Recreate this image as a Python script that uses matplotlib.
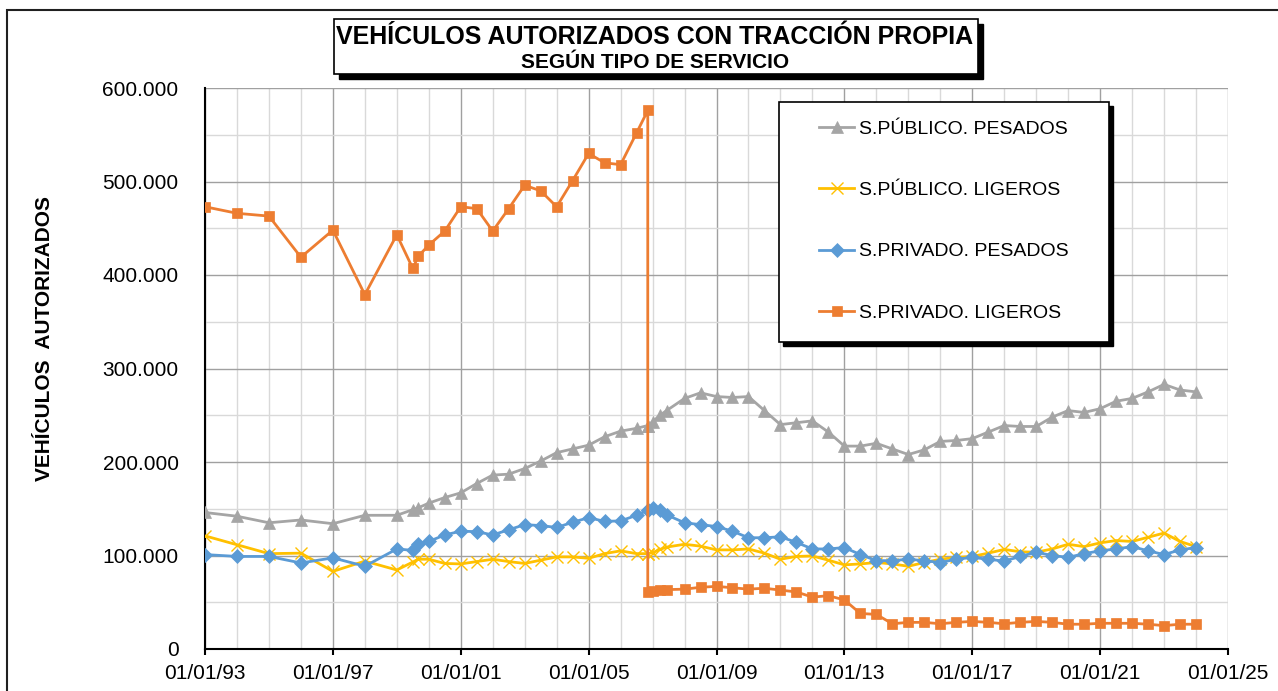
import numpy as np
import matplotlib
matplotlib.use("Agg")
import matplotlib.pyplot as plt
from matplotlib.patches import Rectangle
from matplotlib.ticker import FuncFormatter, FixedLocator, MultipleLocator

plt.rcParams["font.family"] = ["Liberation Sans", "DejaVu Sans"]

# fecha en años decimales (dos registros en 2006.85: cambio de criterio)
fechas = [1993, 1994, 1995, 1996, 1997, 1998, 1999, 1999.5, 1999.67,
          2000, 2000.5, 2001, 2001.5, 2002, 2002.5, 2003, 2003.5,
          2004, 2004.5, 2005, 2005.5, 2006, 2006.5,
          2006.85, 2006.85, 2007.0, 2007.23, 2007.44,
          2008, 2008.5, 2009, 2009.5, 2010, 2010.5, 2011, 2011.5,
          2012, 2012.5, 2013, 2013.5, 2014, 2014.5, 2015, 2015.5,
          2016, 2016.5, 2017, 2017.5, 2018, 2018.5, 2019, 2019.5,
          2020, 2020.5, 2021, 2021.5, 2022, 2022.5, 2023, 2023.5, 2024]

# miles de vehículos
pub_pesados = [146, 142, 135, 138, 134, 143, 143, 149, 151,
               156, 162, 167, 177, 186, 187, 193, 201, 210, 214, 218, 227, 233, 236,
               239, 239, 243, 250, 255,
               268, 274, 270, 269, 270, 255, 240, 242, 244, 232, 217, 217, 220, 214,
               208, 213, 222, 223, 225, 232, 239, 238, 238, 248, 255, 253, 257, 265,
               268, 275, 283, 277, 275]
pub_ligeros = [121, 111.5, 102, 102.5, 83, 94, 84.5, 93, 96,
               96, 91.5, 91, 93.5, 96, 93.5, 91.5, 95, 98.5, 98.5, 97, 102, 105, 102,
               102, 102, 103, 106.5, 109,
               112, 110, 106, 106, 107, 102.5, 96, 99, 99.5, 95, 90, 91, 92.5, 91,
               88.5, 92.5, 96, 98, 99, 102.5, 106.5, 104, 103.5, 107, 112, 109.5,
               113.5, 116, 115, 119.5, 124, 115, 109.5]
priv_pesados = [101, 99, 99, 92, 97.5, 88.5, 107, 105.5, 112.5,
                115, 122, 126, 125.5, 122, 127.5, 133, 132, 130, 135.5, 140.5, 136.5, 137, 143,
                148.5, 148.5, 151, 149, 143.5,
                135, 133, 131, 126, 119, 119, 120, 114, 107, 107, 108.5, 101, 94.5,
                94.5, 96, 94.5, 92.5, 96, 98, 96, 94, 99, 103.5, 100, 98, 102, 105,
                107, 109.5, 105, 101, 106, 108.5]
priv_ligeros = [473, 466, 463, 419, 448, 379, 443, 407, 420,
                432, 447, 473, 471, 447, 471, 496, 490, 473, 501, 530, 520, 518, 552,
                576, 61, 62, 63.5, 63.5,
                64, 66, 67, 65.5, 64, 65, 63, 61, 55.5, 57, 52.5, 38, 37, 27, 28.5,
                28.5, 27, 28.5, 29.5, 28.5, 27, 28.5, 29.5, 28.5, 26.5, 26.5, 27.5,
                27.5, 27.5, 26.5, 25, 26.5, 26.5]

series = [
    ("S.PÚBLICO. PESADOS", pub_pesados, "#A5A5A5", "^", 8.5, 0.5),
    ("S.PÚBLICO. LIGEROS", pub_ligeros, "#FFC000", "x", 8.5, 1.0),
    ("S.PRIVADO. PESADOS", priv_pesados, "#5B9BD5", "D", 7, 0.5),
    ("S.PRIVADO. LIGEROS", priv_ligeros, "#ED7D31", "s", 7.5, 0.5),
]

W, H = 1278, 691
fig = plt.figure(figsize=(W / 100, H / 100), dpi=100)


def px_rect(x0, y0, x1, y1, **kw):
    # rectángulo en píxeles de la figura (origen arriba a la izquierda)
    return Rectangle((x0 / W, 1 - y1 / H), (x1 - x0) / W, (y1 - y0) / H,
                     transform=fig.transFigure, **kw)


# marco exterior
fig.patches.append(px_rect(7, 10, 1300, 710, fill=False, edgecolor="#202020", linewidth=1.5))

ax = fig.add_axes([205 / W, 1 - 649 / H, (1228 - 205) / W, (649 - 88) / H])

x = np.array(fechas)
for name, vals, color, marker, ms, mew in series:
    ax.plot(x, np.array(vals) * 1000, color=color, linewidth=2.0, marker=marker,
            markersize=ms, markeredgewidth=mew, markeredgecolor=color,
            label=name, zorder=3)

ax.set_xlim(1993, 2025)
ax.set_ylim(0, 600000)
ax.xaxis.set_major_locator(FixedLocator(range(1993, 2026, 4)))
ax.xaxis.set_minor_locator(MultipleLocator(1))
ax.yaxis.set_major_locator(MultipleLocator(100000))
ax.yaxis.set_minor_locator(MultipleLocator(50000))
ax.xaxis.set_major_formatter(FuncFormatter(lambda v, p: "01/01/%02d" % (int(round(v)) % 100)))
ax.yaxis.set_major_formatter(FuncFormatter(lambda v, p: "{:,.0f}".format(v).replace(",", ".")))

ax.grid(True, which="major", color="#A0A0A0", linewidth=1.0, zorder=0)
ax.grid(True, which="minor", color="#D9D9D9", linewidth=1.0, zorder=0)
ax.set_axisbelow(True)

for side in ["top", "right"]:
    ax.spines[side].set_visible(False)
for side in ["left", "bottom"]:
    ax.spines[side].set_color("black")
    ax.spines[side].set_linewidth(1.5)

ax.tick_params(axis="x", which="major", length=4, width=1.5, direction="out",
               labelsize=15, pad=7)
ax.tick_params(axis="y", which="major", length=0, labelsize=15, pad=19)
ax.tick_params(which="minor", length=0)

fig.text(45 / W, 1 - 339 / H, "VEHÍCULOS  AUTORIZADOS", rotation=90, ha="center",
         va="center", fontsize=15, fontweight="bold")

# caja del título con sombra
fig.patches.append(px_rect(339, 24, 983, 79, facecolor="black", edgecolor="black"))
fig.patches.append(px_rect(334, 19, 978, 74, facecolor="white", edgecolor="black", linewidth=1.2))
fig.text(655 / W, 1 - 37.5 / H, "VEHÍCULOS AUTORIZADOS CON TRACCIÓN PROPIA", ha="center",
         va="center", fontsize=18, fontweight="bold")
fig.text(655 / W, 1 - 63 / H, "SEGÚN TIPO DE SERVICIO", ha="center", va="center",
         fontsize=15, fontweight="bold")

# caja de leyenda con sombra
fig.patches.append(px_rect(783, 106, 1113, 346, facecolor="black", edgecolor="black", zorder=4))
fig.patches.append(px_rect(779, 102, 1109, 342, facecolor="white", edgecolor="black",
                           linewidth=1.2, zorder=4))
leg = fig.legend(loc="center", bbox_to_anchor=(944 / W, 1 - 221 / H), frameon=False,
                 fontsize=14, labelspacing=2.24, handlelength=1.8, handletextpad=0.26)
leg.set_zorder(5)

fig.savefig("out.png", dpi=100)
